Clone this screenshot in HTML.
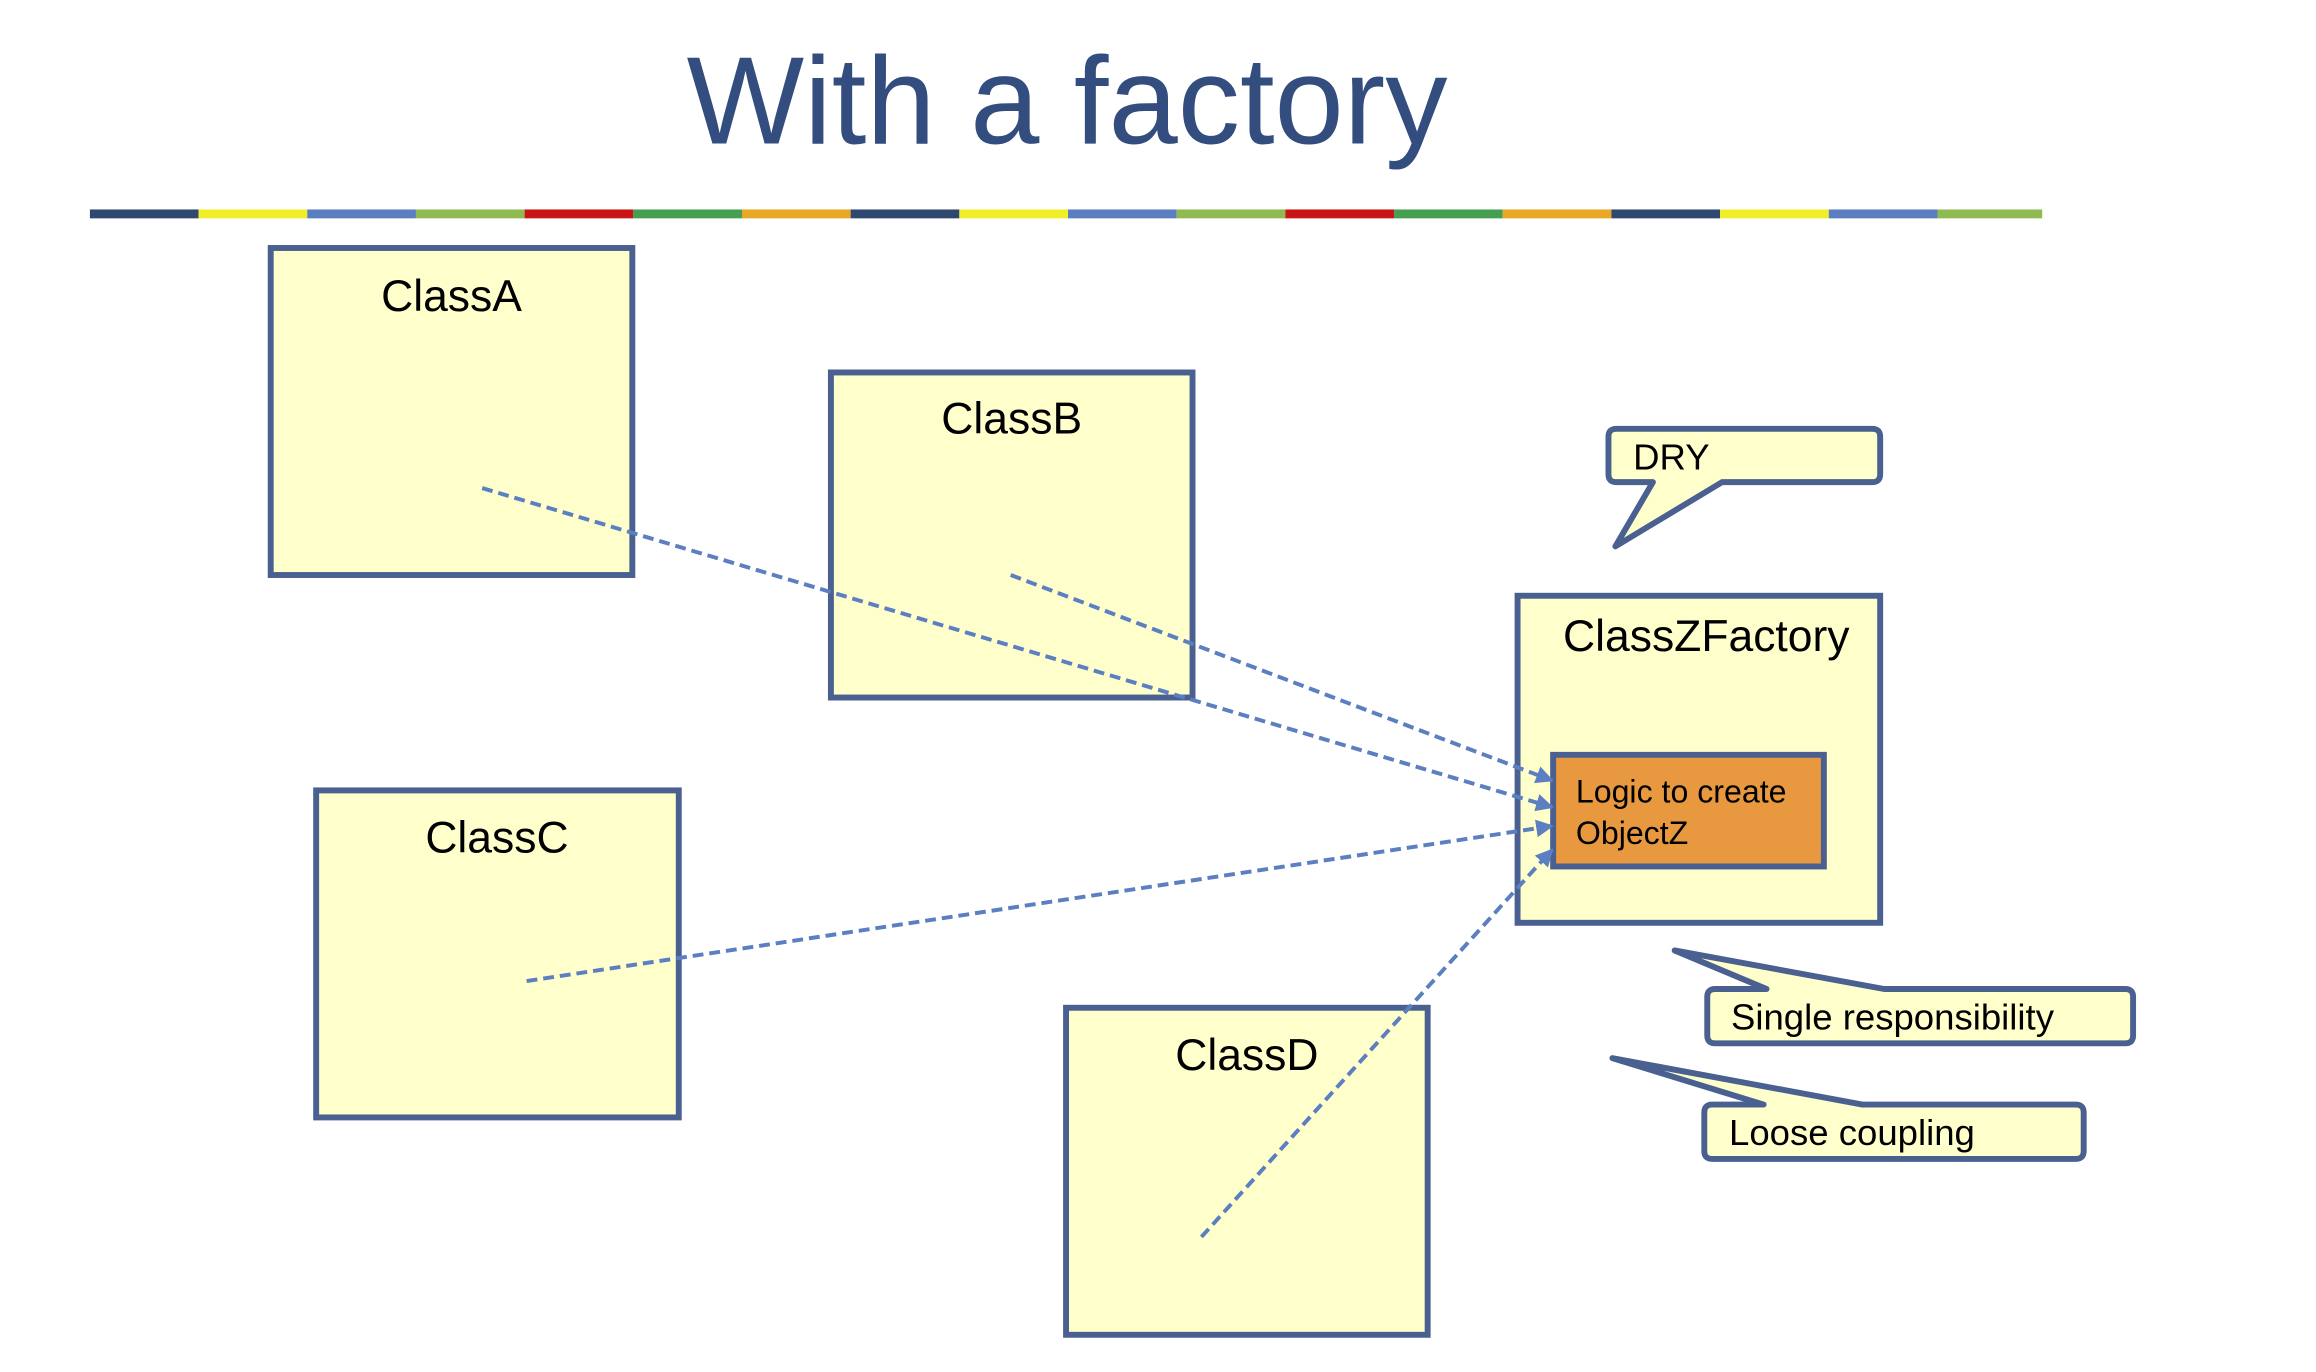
<!DOCTYPE html>
<html><head><meta charset="utf-8"><style>
html,body{margin:0;padding:0;background:#fff;}
svg{display:block;}
text{font-family:"Liberation Sans",sans-serif;}
</style></head><body>
<svg width="2316" height="1372" viewBox="0 0 2316 1372" xmlns="http://www.w3.org/2000/svg">
<defs>
<marker id="ar" viewBox="0 0 10 10" refX="9" refY="5" markerWidth="4.5" markerHeight="4.5" orient="auto" markerUnits="strokeWidth">
<path d="M0,0 L10,5 L0,10 z" fill="#5b7fc0"/>
</marker>
</defs>
<g transform="scale(0.988)">
<text x="1080" y="145" text-anchor="middle" font-size="126" fill="#324d7e">With a factory</text>
<g>
<rect x="91" y="212" width="110" height="9" fill="#2e4870"/>
<rect x="201" y="212" width="110" height="9" fill="#f0ee28"/>
<rect x="311" y="212" width="110" height="9" fill="#5a7ec0"/>
<rect x="421" y="212" width="110" height="9" fill="#8fba50"/>
<rect x="531" y="212" width="110" height="9" fill="#c81414"/>
<rect x="641" y="212" width="110" height="9" fill="#44a050"/>
<rect x="751" y="212" width="110" height="9" fill="#e8a826"/>
<rect x="861" y="212" width="110" height="9" fill="#2e4870"/>
<rect x="971" y="212" width="110" height="9" fill="#f0ee28"/>
<rect x="1081" y="212" width="110" height="9" fill="#5a7ec0"/>
<rect x="1191" y="212" width="110" height="9" fill="#8fba50"/>
<rect x="1301" y="212" width="110" height="9" fill="#c81414"/>
<rect x="1411" y="212" width="110" height="9" fill="#44a050"/>
<rect x="1521" y="212" width="110" height="9" fill="#e8a826"/>
<rect x="1631" y="212" width="110" height="9" fill="#2e4870"/>
<rect x="1741" y="212" width="110" height="9" fill="#f0ee28"/>
<rect x="1851" y="212" width="110" height="9" fill="#5a7ec0"/>
<rect x="1961" y="212" width="106" height="9" fill="#8fba50"/>
</g>
<g fill="#ffffcc" stroke="#4a6090" stroke-width="6">
<rect x="274" y="251" width="366" height="331"/>
<rect x="841" y="377" width="366" height="329"/>
<rect x="320" y="800" width="367" height="331"/>
<rect x="1079" y="1020" width="366" height="331"/>
<rect x="1536" y="603" width="367" height="331"/>
</g>
<rect x="1572" y="764" width="274" height="113" fill="#e8983e" stroke="#4a6090" stroke-width="6"/>
<g font-size="45" fill="#000" text-anchor="middle">
<text x="457" y="315">ClassA</text>
<text x="1024" y="439">ClassB</text>
<text x="503" y="863">ClassC</text>
<text x="1262" y="1083">ClassD</text>
<text x="1727" y="659">ClassZFactory</text>
</g>
<g font-size="32.5" fill="#000">
<text x="1595" y="812">Logic to create</text>
<text x="1595" y="854">ObjectZ</text>
</g>
<g stroke="#5b7fc0" stroke-width="4" stroke-dasharray="11,6" fill="none" marker-end="url(#ar)">
<line x1="488" y1="494" x2="1571" y2="817"/>
<line x1="1023" y1="582" x2="1571" y2="790"/>
<line x1="533" y1="993" x2="1571" y2="836"/>
<line x1="1216" y1="1252" x2="1571" y2="860"/>
</g>
<g fill="#ffffcc" stroke="#4a6090" stroke-width="6" stroke-linejoin="round">
<path d="M1636,434 H1895 Q1903,434 1903,442 V480 Q1903,488 1895,488 H1743 L1635,553 L1673,488 H1636 Q1628,488 1628,480 V442 Q1628,434 1636,434 Z"/>
<path d="M1736,1001 H1788 L1695,962 L1907,1001 H2151 Q2159,1001 2159,1009 V1048 Q2159,1056 2151,1056 H1736 Q1728,1056 1728,1048 V1009 Q1728,1001 1736,1001 Z"/>
<path d="M1733,1118 H1785 L1632,1071 L1885,1118 H2101 Q2109,1118 2109,1126 V1165 Q2109,1173 2101,1173 H1733 Q1725,1173 1725,1165 V1126 Q1725,1118 1733,1118 Z"/>
</g>
<g font-size="37" fill="#000">
<text x="1653" y="475">DRY</text>
<text x="1752" y="1042">Single responsibility</text>
<text x="1750" y="1159">Loose coupling</text>
</g>
</g>
</svg>
</body></html>
